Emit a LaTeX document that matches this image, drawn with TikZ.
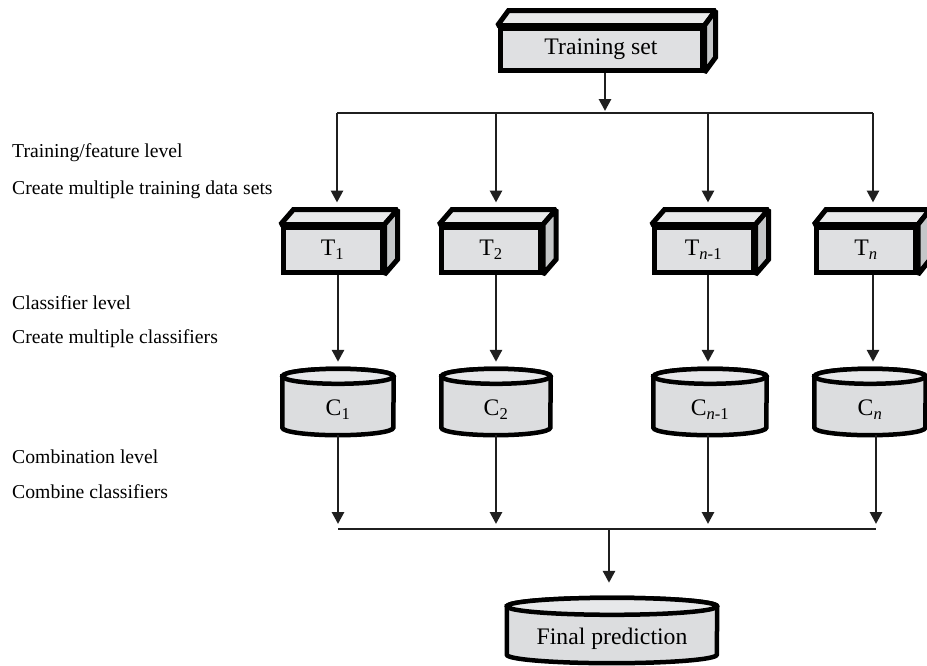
\documentclass[tikz,border=0pt]{standalone}
\usepackage{fontspec}
\setmainfont{Liberation Serif}
\usetikzlibrary{arrows.meta,backgrounds}
\definecolor{frontgray}{HTML}{DFE0E2}
\definecolor{sidegray}{HTML}{C4C6C8}
\definecolor{topgray}{HTML}{E9EAEB}
\definecolor{cylgray}{HTML}{DCDDDF}
\definecolor{lidgray}{HTML}{E7E8EA}

\begin{document}
\begin{tikzpicture}[x=1pt,y=1pt,
  boxface/.style={draw,line width=5pt,fill=frontgray,inner sep=0pt,
    minimum width=99pt,minimum height=45pt,font=\fontsize{23.7}{26}\selectfont},
  boxtop/.style={draw,line width=5pt,miter limit=1.4,fill=topgray},
  boxside/.style={draw,line width=5pt,miter limit=1.4,fill=sidegray},
  cylspan/.style={inner sep=0pt,minimum width=111pt,minimum height=51pt,
    font=\fontsize{23.7}{26}\selectfont},
  cylbody/.style={draw,line width=4.5pt,fill=cylgray},
  cyllid/.style={draw,line width=4.5pt,fill=lidgray},
  levellabel/.style={anchor=west,inner sep=0pt,font=\fontsize{19.7}{22}\selectfont},
  link/.style={line width=2.8pt,draw=black!88},
  flow/.style={link,-{Triangle[width=12pt,length=12pt]}}]
  \useasboundingbox (0,0) rectangle (927,-665);

  % level texts
  \node[levellabel] (featlevel) at (12,-153) {Training/feature level};
  \node[levellabel] (feattask) at (12,-190) {Create multiple training data sets};
  \node[levellabel] (clslevel) at (12,-303) {Classifier level};
  \node[levellabel] (clstask) at (12,-339) {Create multiple classifiers};
  \node[levellabel] (comblevel) at (12,-457) {Combination level};
  \node[levellabel] (combtask) at (12,-492) {Combine classifiers};

  % training sets
  \node[boxface,minimum width=202pt,minimum height=42pt] (train) at (601,-49) {Training set};
  \node[boxface] (t1) at (332.5,-249.5) {T\textsubscript{1}};
  \node[boxface] (t2) at (491,-249.5) {T\textsubscript{2}};
  \node[boxface] (tm) at (703.5,-249.5) {T\textsubscript{\textit{n}-1}};
  \node[boxface] (tn) at (866,-249.5) {T\textsubscript{\textit{n}}};

  % classifiers
  \node[cylspan] (c1) at (338,-409.5) {C\textsubscript{1}};
  \node[cylspan,minimum width=109pt] (c2) at (496,-409.5) {C\textsubscript{2}};
  \node[cylspan,minimum width=113pt] (cm) at (710,-409.5) {C\textsubscript{\textit{n}-1}};
  \node[cylspan] (cn) at (870,-409.5) {C\textsubscript{\textit{n}}};
  \node[cylspan,minimum width=210pt,minimum height=48pt] (final) at (612,-639) {Final prediction};

  \begin{pgfonlayer}{background}
    \path[boxtop] (train.north west) -- ++(11,15) -- ([shift={(11,15)}]train.north east) -- (train.north east) -- cycle;
    \path[boxside] (train.north east) -- ++(11,15) -- ([shift={(11,15)}]train.south east) -- (train.south east) -- cycle;
    \path[boxtop] (t1.north west) -- ++(13,15) -- ([shift={(13,15)}]t1.north east) -- (t1.north east) -- cycle;
    \path[boxside] (t1.north east) -- ++(13,15) -- ([shift={(13,15)}]t1.south east) -- (t1.south east) -- cycle;
    \path[boxtop] (t2.north west) -- ++(13,15) -- ([shift={(13,15)}]t2.north east) -- (t2.north east) -- cycle;
    \path[boxside] (t2.north east) -- ++(13,15) -- ([shift={(13,15)}]t2.south east) -- (t2.south east) -- cycle;
    \path[boxtop] (tm.north west) -- ++(13,15) -- ([shift={(13,15)}]tm.north east) -- (tm.north east) -- cycle;
    \path[boxside] (tm.north east) -- ++(13,15) -- ([shift={(13,15)}]tm.south east) -- (tm.south east) -- cycle;
    \path[boxtop] (tn.north west) -- ++(12,15) -- ([shift={(12,15)}]tn.north east) -- (tn.north east) -- cycle;
    \path[boxside] (tn.north east) -- ++(12,15) -- ([shift={(12,15)}]tn.south east) -- (tn.south east) -- cycle;

    \path[cylbody] ([yshift=7.5pt]c1.north west) -- ([yshift=7.5pt]c1.south west)
      arc[start angle=180,end angle=360,x radius=55.5pt,y radius=7.5pt]
      -- ([yshift=7.5pt]c1.north east) arc[start angle=0,end angle=180,x radius=55.5pt,y radius=7.5pt] -- cycle;
    \path[cyllid] ([yshift=7.5pt]c1.north) ellipse[x radius=55.5pt,y radius=7.5pt];
    \path[cylbody] ([yshift=7.5pt]c2.north west) -- ([yshift=7.5pt]c2.south west)
      arc[start angle=180,end angle=360,x radius=54.5pt,y radius=7.5pt]
      -- ([yshift=7.5pt]c2.north east) arc[start angle=0,end angle=180,x radius=54.5pt,y radius=7.5pt] -- cycle;
    \path[cyllid] ([yshift=7.5pt]c2.north) ellipse[x radius=54.5pt,y radius=7.5pt];
    \path[cylbody] ([yshift=7.5pt]cm.north west) -- ([yshift=7.5pt]cm.south west)
      arc[start angle=180,end angle=360,x radius=56.5pt,y radius=7.5pt]
      -- ([yshift=7.5pt]cm.north east) arc[start angle=0,end angle=180,x radius=56.5pt,y radius=7.5pt] -- cycle;
    \path[cyllid] ([yshift=7.5pt]cm.north) ellipse[x radius=56.5pt,y radius=7.5pt];
    \path[cylbody] ([yshift=7.5pt]cn.north west) -- ([yshift=7.5pt]cn.south west)
      arc[start angle=180,end angle=360,x radius=55.5pt,y radius=7.5pt]
      -- ([yshift=7.5pt]cn.north east) arc[start angle=0,end angle=180,x radius=55.5pt,y radius=7.5pt] -- cycle;
    \path[cyllid] ([yshift=7.5pt]cn.north) ellipse[x radius=55.5pt,y radius=7.5pt];
    \path[cylbody] ([yshift=8.5pt]final.north west) -- ([yshift=8.5pt]final.south west)
      arc[start angle=180,end angle=360,x radius=105pt,y radius=8.5pt]
      -- ([yshift=8.5pt]final.north east) arc[start angle=0,end angle=180,x radius=105pt,y radius=8.5pt] -- cycle;
    \path[cyllid] ([yshift=8.5pt]final.north) ellipse[x radius=105pt,y radius=8.5pt];
  \end{pgfonlayer}

  % split into training sets
  \coordinate (split) at (605,-113);
  \coordinate (s1) at (337,-113);
  \coordinate (s2) at (496,-113);
  \coordinate (sm) at (708,-113);
  \coordinate (sn) at (873,-113);
  \draw[flow] (train.south -| split) -- ([yshift=2pt]split);
  \draw[link] (s1) -- (sn);
  \draw[flow] (s1) -- ([yshift=22pt]s1 |- t1.north);
  \draw[flow] (s2) -- ([yshift=22pt]s2 |- t2.north);
  \draw[flow] (sm) -- ([yshift=22pt]sm |- tm.north);
  \draw[flow] (sn) -- ([yshift=22pt]sn |- tn.north);

  % training sets to classifiers
  \draw[flow] (t1.south -| c1.north) -- ([yshift=22pt]c1.north);
  \draw[flow] (t2.south -| c2.north) -- ([yshift=22pt]c2.north);
  \draw[flow] (tm.south -| sm) -- ([yshift=22pt]cm.north -| sm);
  \draw[flow] (tn.south -| sn) -- ([yshift=22pt]cn.north -| sn);

  % combination
  \coordinate (m1) at (338,-529);
  \coordinate (m2) at (496,-529);
  \coordinate (mm) at (708,-529);
  \coordinate (mn) at (876,-529);
  \coordinate (join) at (609,-529);
  \draw[link] (m1) -- (mn);
  \draw[flow] (c1.south) -- ([yshift=5pt]m1);
  \draw[flow] (c2.south) -- ([yshift=5pt]m2);
  \draw[flow] (cm.south -| mm) -- ([yshift=5pt]mm);
  \draw[flow] (cn.south -| mn) -- ([yshift=5pt]mn);
  \draw[flow] (join) -- ([yshift=32pt]final.north -| join);
\end{tikzpicture}
\end{document}
